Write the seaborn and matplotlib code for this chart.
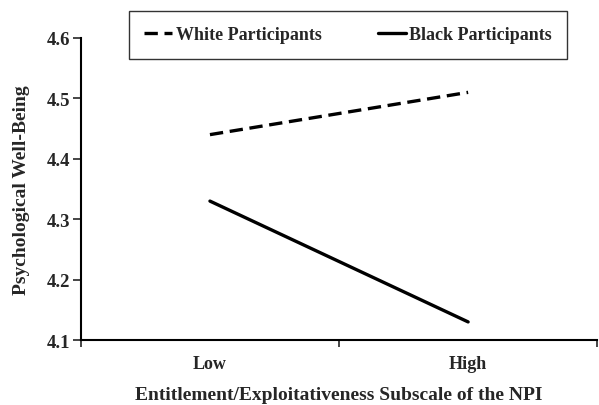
import pandas as pd
import matplotlib.pyplot as plt
import seaborn as sns

# Values
levels = ['Low', 'High']
white_vals = [4.44, 4.51]
black_vals = [4.33, 4.13]
groups = ['White Participants', 'Black Participants']
y_ticks = [4.1, 4.2, 4.3, 4.4, 4.5, 4.6]

data = pd.DataFrame({
    'NPI': levels * 2,
    'PWB': white_vals + black_vals,
    'Group': [groups[0]] * 2 + [groups[1]] * 2,
})
data['x'] = data['NPI'].map({k: i for i, k in enumerate(levels)})

sns.set_style('white')
plt.rcParams['font.family'] = ['Liberation Serif', 'DejaVu Serif']
plt.rcParams['font.weight'] = 'bold'

fig = plt.figure(figsize=(5.99, 4.06), dpi=100)
ax = fig.add_axes([0.135, 0.16, 0.862, 0.744])

sns.lineplot(data=data, x='x', y='PWB', hue='Group', style='Group',
             palette=['black', 'black'], dashes={groups[0]: (4, 2), groups[1]: ''},
             linewidth=2.4, legend=False, ax=ax)

ax.set_xlim(-0.5, 1.5)
ax.set_ylim(4.1, 4.6)
ax.set_yticks(y_ticks)
ax.set_yticklabels([f'{v:.1f}' for v in y_ticks], fontsize=13.5, fontweight='bold')
ax.set_xticks([0, 1])
ax.set_xticklabels(levels, fontsize=13, fontweight='bold')
ax.set_xticks([-0.5, 0.5, 1.5], minor=True)
ax.tick_params(axis='x', which='major', length=0, pad=11)
ax.tick_params(axis='x', which='minor', length=5, width=1.2, direction='out', bottom=True)
ax.tick_params(axis='y', length=6, width=1.2, direction='out', left=True, pad=2)

for side in ['top', 'right']:
    ax.spines[side].set_visible(False)
for side in ['left', 'bottom']:
    ax.spines[side].set_linewidth(1.5)
    ax.spines[side].set_color('black')

ax.set_xlabel('Entitlement/Exploitativeness Subscale of the NPI', fontsize=14, fontweight='bold', labelpad=10)
ax.set_ylabel('Psychological Well-Being', fontsize=14, fontweight='bold', labelpad=12)

handles = ax.get_lines()[:2]
leg = ax.legend(handles, groups, loc='upper left', bbox_to_anchor=(0.093, 1.089),
                ncol=2, frameon=True, fancybox=False, edgecolor='black',
                prop={'weight': 'bold', 'size': 13}, handlelength=1.55,
                handletextpad=0.2, columnspacing=3.1, borderpad=0.85, borderaxespad=0)
leg.get_frame().set_linewidth(1.0)

fig.savefig('out.png', dpi=100)
